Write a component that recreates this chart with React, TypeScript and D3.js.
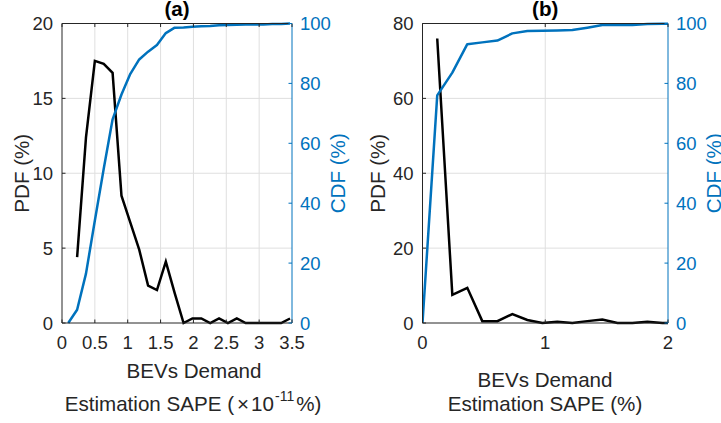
import React from 'react';
import * as d3 from 'd3';

// ---- Panel (a): SAPE in units of 1e-11 %
const pdfXA = [0.23, 0.365, 0.5, 0.635, 0.77, 0.905, 1.04, 1.175, 1.31, 1.445, 1.58, 1.715, 1.85, 1.985, 2.12, 2.255, 2.39, 2.525, 2.66, 2.795, 2.93, 3.065, 3.2, 3.335, 3.47];
const pdfA = [4.4, 12.4, 17.5, 17.3, 16.7, 8.5, 6.7, 4.9, 2.5, 2.2, 4.1, 2.0, 0, 0.3, 0.3, 0, 0.3, 0, 0.3, 0, 0, 0, 0, 0, 0.3];
const cdfXA = [0.095, 0.23, 0.365, 0.5, 0.635, 0.77, 0.905, 1.04, 1.175, 1.31, 1.445, 1.58, 1.715, 1.85, 1.985, 2.12, 2.255, 2.39, 2.525, 2.66, 2.795, 2.93, 3.065, 3.2, 3.335, 3.47];
const cdfA = [0, 4.4, 16.5, 34.2, 51.5, 68.0, 76.3, 83.2, 88.0, 90.6, 92.8, 96.8, 98.6, 98.7, 98.9, 99.1, 99.2, 99.4, 99.5, 99.6, 99.7, 99.7, 99.7, 99.8, 99.8, 100];
const xTicksA = [0, 0.5, 1, 1.5, 2, 2.5, 3, 3.5];
const xTickLabelsA = ['0', '0.5', '1', '1.5', '2', '2.5', '3', '3.5'];
const yTicksA = [0, 5, 10, 15, 20];

// ---- Panel (b): SAPE in %
const pdfXB = [0.12, 0.243, 0.365, 0.487, 0.61, 0.732, 0.854, 0.976, 1.098, 1.221, 1.343, 1.465, 1.588, 1.71, 1.832, 1.955, 2.077];
const pdfB = [76.0, 7.5, 9.4, 0.5, 0.5, 2.4, 0.8, 0, 0.3, 0, 0.5, 0.9, 0, 0, 0.3, 0, 0];
const cdfXB = [0, 0.12, 0.243, 0.365, 0.487, 0.61, 0.732, 0.854, 0.976, 1.098, 1.221, 1.343, 1.465, 1.588, 1.71, 1.832, 1.955, 2.077];
const cdfB = [0, 76.0, 83.6, 93.1, 93.7, 94.3, 96.7, 97.5, 97.6, 97.7, 97.8, 98.6, 99.5, 99.5, 99.5, 99.8, 99.9, 100];
const xTicksB = [0, 1, 2];
const xTickLabelsB = ['0', '1', '2'];
const yTicksB = [0, 20, 40, 60, 80];

const cdfTicks = [0, 20, 40, 60, 80, 100];

const BLUE = '#0072BD';
const AXIS = '#262626';
const GRID = '#dfdfdf';
const FONT = '"Liberation Sans", Arial, Helvetica, sans-serif';
const TICK_FS = 18.5;
const LABEL_FS = 20.6;

type PanelProps = {
  id: string;
  x0: number;
  x1: number;
  y0: number;
  y1: number;
  xMax: number;
  yMax: number;
  xTicks: number[];
  xTickLabels: string[];
  yTicks: number[];
  pdfX: number[];
  pdf: number[];
  cdfX: number[];
  cdf: number[];
  title: string;
  pdfLabelX: number;
  cdfLabelX: number;
  xLabel: React.ReactNode;
};

function Panel(p: PanelProps) {
  const x = d3.scaleLinear().domain([0, p.xMax]).range([p.x0, p.x1]);
  const yL = d3.scaleLinear().domain([0, p.yMax]).range([p.y1, p.y0]);
  const yR = d3.scaleLinear().domain([0, 100]).range([p.y1, p.y0]);
  const tick = 3.5;

  const pdfLine = d3
    .line<number>()
    .x((_, i) => x(p.pdfX[i]))
    .y((d) => yL(d));
  const cdfLine = d3
    .line<number>()
    .x((_, i) => x(p.cdfX[i]))
    .y((d) => yR(d));

  const midY = (p.y0 + p.y1) / 2;
  const clipId = `clip-${p.id}`;

  return (
    <g>
      <defs>
        <clipPath id={clipId}>
          <rect x={p.x0} y={p.y0 - 2} width={p.x1 - p.x0} height={p.y1 - p.y0 + 4} />
        </clipPath>
      </defs>
      {/* grid */}
      {p.xTicks
        .filter((t) => t > 0 && t < p.xMax)
        .map((t) => (
          <line key={`gx${t}`} x1={x(t)} x2={x(t)} y1={p.y0} y2={p.y1} stroke={GRID} strokeWidth={1} />
        ))}
      {p.yTicks
        .filter((t) => t > 0 && t < p.yMax)
        .map((t) => (
          <line key={`gy${t}`} x1={p.x0} x2={p.x1} y1={yL(t)} y2={yL(t)} stroke={GRID} strokeWidth={1} />
        ))}

      {/* data */}
      <g clipPath={`url(#${clipId})`}>
        <path d={pdfLine(p.pdf) || ''} fill="none" stroke="#000" strokeWidth={2.5} strokeLinejoin="miter" />
        <path d={cdfLine(p.cdf) || ''} fill="none" stroke={BLUE} strokeWidth={2.5} strokeLinejoin="round" />
      </g>

      {/* box */}
      <line x1={p.x0} x2={p.x1} y1={p.y1} y2={p.y1} stroke={AXIS} strokeWidth={1} />
      <line x1={p.x0} x2={p.x1} y1={p.y0} y2={p.y0} stroke={AXIS} strokeWidth={1} />
      <line x1={p.x0} x2={p.x0} y1={p.y0} y2={p.y1} stroke={AXIS} strokeWidth={1} />
      <line x1={p.x1} x2={p.x1} y1={p.y0} y2={p.y1} stroke={BLUE} strokeWidth={1} />

      {/* x ticks */}
      {p.xTicks.map((t, i) => (
        <g key={`xt${t}`}>
          <line x1={x(t)} x2={x(t)} y1={p.y1} y2={p.y1 - tick} stroke={AXIS} />
          <line x1={x(t)} x2={x(t)} y1={p.y0} y2={p.y0 + tick} stroke={AXIS} />
          <text x={x(t)} y={p.y1 + 25.5} textAnchor="middle" fontSize={TICK_FS} fill={AXIS} fontFamily={FONT}>
            {p.xTickLabels[i]}
          </text>
        </g>
      ))}

      {/* left y ticks */}
      {p.yTicks.map((t) => (
        <g key={`yl${t}`}>
          <line x1={p.x0} x2={p.x0 + tick} y1={yL(t)} y2={yL(t)} stroke={AXIS} />
          <text x={p.x0 - 9} y={yL(t)} dy="0.36em" textAnchor="end" fontSize={TICK_FS} fill={AXIS} fontFamily={FONT}>
            {t}
          </text>
        </g>
      ))}

      {/* right y ticks */}
      {cdfTicks.map((t) => (
        <g key={`yr${t}`}>
          <line x1={p.x1} x2={p.x1 - tick} y1={yR(t)} y2={yR(t)} stroke={BLUE} />
          <text x={p.x1 + 8} y={yR(t)} dy="0.36em" textAnchor="start" fontSize={TICK_FS} fill={BLUE} fontFamily={FONT}>
            {t}
          </text>
        </g>
      ))}

      {/* axis titles */}
      <text
        transform={`translate(${p.pdfLabelX},${midY}) rotate(-90)`}
        textAnchor="middle"
        fontSize={LABEL_FS}
        fill={AXIS}
        fontFamily={FONT}
      >
        PDF (%)
      </text>
      <text
        transform={`translate(${p.cdfLabelX},${midY}) rotate(-90)`}
        textAnchor="middle"
        fontSize={LABEL_FS}
        fill={BLUE}
        fontFamily={FONT}
      >
        CDF (%)
      </text>
      <text
        x={(p.x0 + p.x1) / 2}
        y={p.y0 - 8}
        textAnchor="middle"
        fontSize={LABEL_FS}
        fontWeight="bold"
        fill="#000"
        fontFamily={FONT}
      >
        {p.title}
      </text>
      {p.xLabel}
    </g>
  );
}

export default function App() {
  const top = 23.5;
  const bottom = 323;
  return (
    <svg
      width={721}
      height={423}
      viewBox="0 0 721 423"
      style={{ position: 'absolute', left: 0, top: 0, background: '#fff' }}
    >
      <rect width={721} height={423} fill="#fff" />
      <Panel
        id="a"
        x0={62}
        x1={292}
        y0={top}
        y1={bottom}
        xMax={3.5}
        yMax={20}
        xTicks={xTicksA}
        xTickLabels={xTickLabelsA}
        yTicks={yTicksA}
        pdfX={pdfXA}
        pdf={pdfA}
        cdfX={cdfXA}
        cdf={cdfA}
        title="(a)"
        pdfLabelX={29}
        cdfLabelX={345}
        xLabel={
          <g fontFamily={FONT} fill={AXIS}>
            <text x={194} y={378} textAnchor="middle" fontSize={LABEL_FS}>
              BEVs Demand
            </text>
            <text x={193} y={411} textAnchor="middle" fontSize={LABEL_FS}>
              <tspan>Estimation SAPE (</tspan>
              <tspan dx={3}>×</tspan>
              <tspan dx={2}>10</tspan>
              <tspan dy={-10} dx={1} fontSize={14}>-11</tspan>
              <tspan dy={10} dx={2}>%)</tspan>
            </text>
          </g>
        }
      />
      <Panel
        id="b"
        x0={422.5}
        x1={668}
        y0={top}
        y1={bottom}
        xMax={2}
        yMax={80}
        xTicks={xTicksB}
        xTickLabels={xTickLabelsB}
        yTicks={yTicksB}
        pdfX={pdfXB}
        pdf={pdfB}
        cdfX={cdfXB}
        cdf={cdfB}
        title="(b)"
        pdfLabelX={385}
        cdfLabelX={721}
        xLabel={
          <g fontFamily={FONT} fill={AXIS}>
            <text x={545} y={387} textAnchor="middle" fontSize={LABEL_FS}>
              BEVs Demand
            </text>
            <text x={545} y={411} textAnchor="middle" fontSize={LABEL_FS}>
              Estimation SAPE (%)
            </text>
          </g>
        }
      />
    </svg>
  );
}
